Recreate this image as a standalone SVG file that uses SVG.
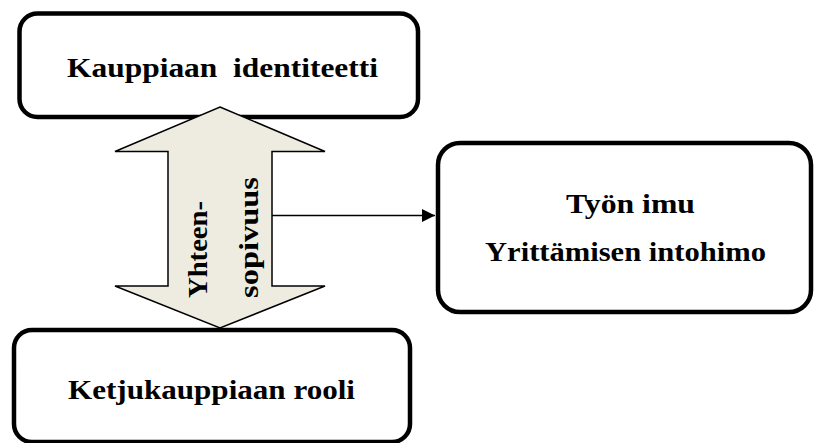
<svg xmlns="http://www.w3.org/2000/svg" width="814" height="443" viewBox="0 0 814 443">
<style>
.box{fill:#ffffff;stroke:#000000;stroke-width:4.5}
.t{font-family:"Liberation Serif","DejaVu Serif",serif;font-weight:bold;font-size:28px;fill:#000000}
.conn{stroke:#000000;stroke-width:1.5;fill:none}
</style>
<defs>
<marker id="ah" markerWidth="14" markerHeight="14" refX="13" refY="7" orient="auto" markerUnits="userSpaceOnUse">
<path d="M0,0.5 L13,7 L0,13.5 Z" fill="#000000"/>
</marker>
</defs>
<rect x="0" y="0" width="814" height="443" fill="#ffffff"/>
<g id="node-kauppiaan-identiteetti">
<rect class="box" x="19.5" y="13.5" width="398.5" height="103.5" rx="18" ry="18"/>
<text class="t" x="67" y="77" textLength="311" lengthAdjust="spacingAndGlyphs" xml:space="preserve">Kauppiaan  identiteetti</text>
</g>
<g id="node-ketjukauppiaan-rooli">
<rect class="box" x="14" y="330" width="396" height="112" rx="18" ry="18"/>
<text class="t" x="68" y="399" textLength="287" lengthAdjust="spacingAndGlyphs">Ketjukauppiaan rooli</text>
</g>
<g id="node-tyon-imu">
<rect class="box" x="438" y="143" width="373" height="169" rx="22" ry="22"/>
<text class="t" x="566" y="213" textLength="129" lengthAdjust="spacingAndGlyphs">Työn imu</text>
<text class="t" x="485" y="261" textLength="281" lengthAdjust="spacingAndGlyphs">Yrittämisen intohimo</text>
</g>
<g id="node-yhteensopivuus">
<path d="M220,107 L325,151.5 L272,151.5 L272,286 L325,286 L220,328 L115,286 L168,286 L168,151.5 L115,151.5 Z" fill="#EEECE1" stroke="#000000" stroke-width="1.5" stroke-linejoin="miter"/>
<text class="t" transform="translate(207,298) rotate(-90)" x="0" y="0" textLength="97" lengthAdjust="spacingAndGlyphs">Yhteen-</text>
<text class="t" transform="translate(258,298) rotate(-90)" x="0" y="0" textLength="121" lengthAdjust="spacingAndGlyphs">sopivuus</text>
</g>
<g id="connectors">
<line class="conn" x1="272" y1="215.5" x2="435" y2="215.5" marker-end="url(#ah)"/>
</g>
</svg>
